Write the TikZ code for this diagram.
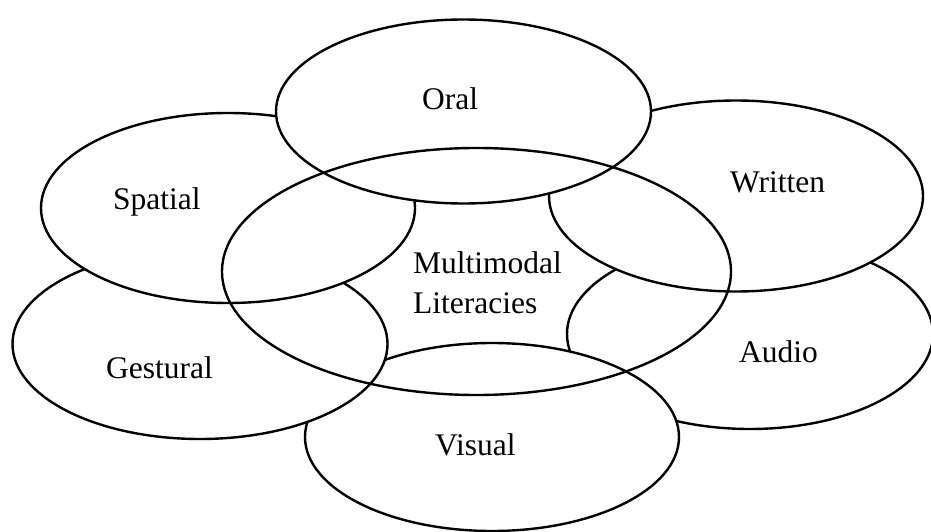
\documentclass[tikz,border=0pt]{standalone}
\usepackage{fontspec}
\setmainfont{Liberation Serif}
\usetikzlibrary{shapes.geometric}
\begin{document}
\begin{tikzpicture}[x=1pt,y=-1pt,
  oval/.style={ellipse,draw=black,line width=2.4pt,fill=white,inner sep=0pt},
  hollow/.style={ellipse,draw=black,line width=2.4pt,inner sep=0pt},
  lbl/.style={anchor=base west,inner sep=0pt,font=\fontsize{31.5}{40}\selectfont}]
\useasboundingbox (0,0) rectangle (931,532);
% outer ellipses, bottom to top
\node[oval,minimum width=366pt,minimum height=190pt] (audio) at (750,334) {};
\node[oval,minimum width=374pt,minimum height=191pt] (written) at (736,196) {};
\node[oval,minimum width=374pt,minimum height=188pt] (visual) at (492,437) {};
\node[oval,minimum width=375pt,minimum height=190pt] (gestural) at (200,344) {};
\node[oval,minimum width=374pt,minimum height=190pt] (spatial) at (228,208) {};
\node[oval,minimum width=375pt,minimum height=184pt] (oral) at (463.5,111.5) {};
% central ellipse, outline only
\node[hollow,minimum width=509pt,minimum height=247pt] (centre) at (476.5,271.5) {};
% labels
\node[lbl] (toral) at (422,110) {Oral};
\node[lbl] (tspatial) at (113,209) {Spatial};
\node[lbl] (twritten) at (730,192) {Written};
\node[lbl] (tgestural) at (106,378) {Gestural};
\node[lbl] (taudio) at (739,362) {Audio};
\node[lbl] (tvisual) at (435,455) {Visual};
\node[lbl] (tmulti) at (413,273) {Multimodal};
\node[lbl] (tlit) at (413,313) {Literacies};
\end{tikzpicture}
\end{document}
